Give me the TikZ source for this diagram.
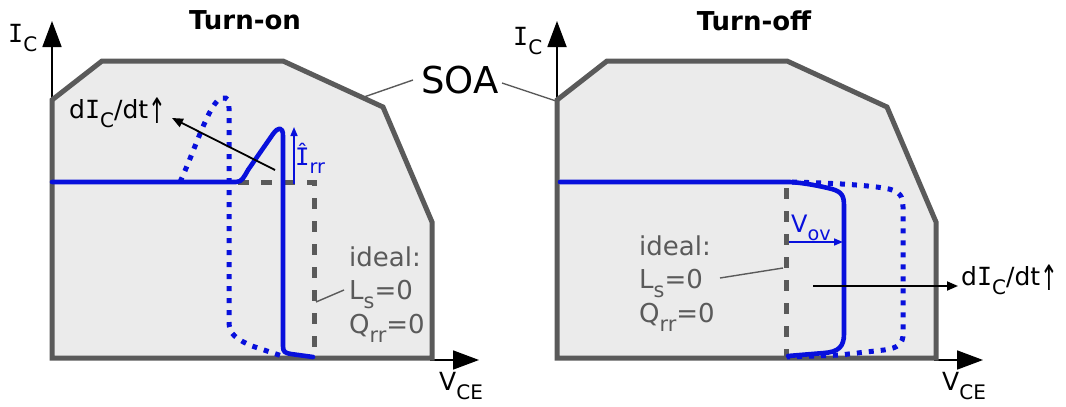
\documentclass[tikz,border=0pt]{standalone}
\usepackage{fontspec}
\usepackage{graphicx}
\setmainfont{DejaVu Sans}
\newfontfamily\serifI{DejaVu Sans Mono}
\newcommand\sbs[1]{\raisebox{-0.36em}{\scalebox{0.8}{#1}}}
\newcommand\Iglyph{{\serifI I}}
\newcommand\Ihat{{\serifI Î}}
\newcommand\uparr{\raisebox{-0.2em}{\scalebox{0.85}[1.4]{↑}}}
\usetikzlibrary{arrows.meta}
\definecolor{soafill}{HTML}{EBEBEB}
\definecolor{soaline}{HTML}{5A5A5A}
\definecolor{curveblue}{HTML}{0810DC}
\begin{document}
\begin{tikzpicture}[x=1pt,y=-1pt,
  soa/.style={draw=soaline,fill=soafill,line width=5pt,line join=miter},
  axis/.style={draw=black,line width=1.8pt,-{Triangle[length=26pt,width=19pt]}},
  realcurve/.style={draw=curveblue,line width=4.6pt,line join=round,line cap=round},
  dotcurve/.style={draw=curveblue,line width=5pt,dash pattern=on 5pt off 7pt},
  idealline/.style={draw=soaline,line width=5pt,dash pattern=on 11pt off 12pt},
  leader/.style={draw=soaline,line width=1.4pt},
  thinarrow/.style={draw=black,line width=1.8pt,-{Triangle[length=11pt,width=9pt]}},
  bluearrow/.style={draw=curveblue,line width=1.6pt,-{Triangle[length=9pt,width=7pt]}},
  title/.style={font=\fontsize{26}{30}\selectfont\bfseries,inner sep=0pt},
  lbl/.style={font=\fontsize{25}{28}\selectfont,inner sep=0pt},
  bluelbl/.style={font=\fontsize{24}{28}\selectfont,inner sep=0pt,text=curveblue},
  graylbl/.style={font=\fontsize{26}{30}\selectfont,inner sep=0pt,text=soaline},
  soalbl/.style={font=\fontsize{37}{42}\selectfont,inner sep=0pt}
]
\useasboundingbox (0,0) rectangle (1066,407);

% ---------------- left panel: turn-on ----------------
\coordinate (yb1) at (52,358);
\coordinate (yt1) at (52,21);
\coordinate (xb1) at (430,360);
\coordinate (xt1) at (479,360);
\draw[axis] (yb1) -- (yt1);
\draw[axis] (xb1) -- (xt1);
\draw[soa] (52,100) -- (102,61) -- (283,61) -- (383,107) -- (432,222) -- (432,358) -- (52,358) -- cycle;

\node[title,anchor=base] (t1) at (245,29) {Turn-on};
\node[lbl,anchor=base west] (ic1) at (8,42) {\Iglyph\sbs{C}};
\node[lbl,anchor=base west] (vce1) at (439,390) {V\sbs{CE}};

% ideal curve
\draw[idealline] (238,182) -- (314,182) -- (314,358);
% dotted (higher dI/dt)
\draw[dotcurve] (180,182) .. controls (195,150) and (210,100) .. (222,98)
  .. controls (228,97) and (229,100) .. (229,108) -- (229,322)
  .. controls (229,334) and (236,339) .. (252,346) -- (282,356);
% real curve
\draw[realcurve] (52,182) -- (236,182) .. controls (242,182) and (244,177) .. (248,170)
  -- (273,134) .. controls (278,127) and (283,126) .. (283,136)
  -- (283,346) .. controls (283,352) and (285,353) .. (291,354) -- (313,357);

% Irr arrow
\coordinate (irrb) at (294,184);
\coordinate (irrt) at (294,127);
\draw[bluearrow] (irrb) -- (irrt);
\node[bluelbl,anchor=base west] (irr) at (295,165) {\Ihat\sbs{rr}};

% dI/dt arrow
\coordinate (da1) at (275,170);
\coordinate (db1) at (172,118);
\draw[thinarrow] (da1) -- (db1);
\node[lbl,anchor=base west] (didt1) at (69,118) {d\Iglyph\sbs{C}/dt\uparr};

% ideal labels
\node[graylbl,anchor=base west] (id1) at (349,266) {ideal:};
\node[graylbl,anchor=base west] (ls1) at (349,299) {L\sbs{s}=0};
\node[graylbl,anchor=base west] (qr1) at (349,333) {Q\sbs{rr}=0};
\coordinate (il1) at (316,302);
\coordinate (ie1) at (344,290);
\draw[leader] (il1) -- (ie1);

% ---------------- right panel: turn-off ----------------
\coordinate (yb2) at (557,358);
\coordinate (yt2) at (557,21);
\coordinate (xb2) at (934,360);
\coordinate (xt2) at (983,360);
\draw[axis] (yb2) -- (yt2);
\draw[axis] (xb2) -- (xt2);
\draw[soa] (557,100) -- (607,61) -- (787,61) -- (887,107) -- (936,222) -- (936,358) -- (557,358) -- cycle;

\node[title,anchor=base] (t2) at (754,30) {Turn-off};
\node[lbl,anchor=base west] (ic2) at (513,45) {\Iglyph\sbs{C}};
\node[lbl,anchor=base west] (vce2) at (942,390) {V\sbs{CE}};

% ideal curve
\draw[idealline] (786,188) -- (786,358);
% dotted
\draw[dotcurve] (792,182) .. controls (830,183) and (870,185) .. (889,189)
  .. controls (900,192) and (903,196) .. (903,207) -- (903,334)
  .. controls (903,344) and (898,348) .. (884,350) -- (840,355) -- (787,357);
% real curve
\draw[realcurve] (560,182) -- (790,182) .. controls (805,183) and (820,186) .. (832,189)
  .. controls (842,192) and (844,196) .. (844,206) -- (844,334)
  .. controls (844,347) and (838,352) .. (824,353) -- (788,356);

% Vov arrow
\coordinate (vova) at (789,242);
\coordinate (vovb) at (843,242);
\draw[bluearrow] (vova) -- (vovb);
\node[bluelbl,anchor=base west] (vov) at (791,232) {V\sbs{ov}};

% dI/dt arrow
\coordinate (da2) at (813,286);
\coordinate (db2) at (958,286);
\draw[thinarrow] (da2) -- (db2);
\node[lbl,anchor=base west] (didt2) at (961,285) {d\Iglyph\sbs{C}/dt\uparr};

% ideal labels
\node[graylbl,anchor=base west] (id2) at (639,255) {ideal:};
\node[graylbl,anchor=base west] (ls2) at (639,288) {L\sbs{s}=0};
\node[graylbl,anchor=base west] (qr2) at (639,322) {Q\sbs{rr}=0};
\coordinate (ie2) at (720,278);
\coordinate (il2) at (783,268);
\draw[leader] (ie2) -- (il2);

% ---------------- SOA label ----------------
\node[soalbl,anchor=base west] (soa) at (421,93) {SOA};
\coordinate (soaL) at (413,80);
\coordinate (soaR) at (502,83);
\coordinate (edgeL) at (364,97);
\coordinate (edgeR) at (556,101);
\draw[leader] (edgeL) -- (soaL);
\draw[leader] (soaR) -- (edgeR);
\end{tikzpicture}
\end{document}
